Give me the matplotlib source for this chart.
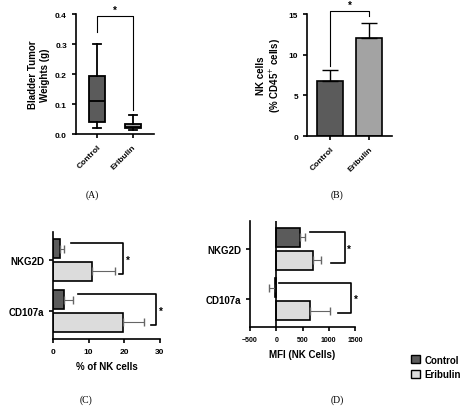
import matplotlib
matplotlib.use("Agg")
import matplotlib.pyplot as plt
from matplotlib.patches import Patch

groups = ["Control", "Eribulin"]
# Panel A box stats
a_whislo = [0.02, 0.015]; a_q1 = [0.04, 0.02]; a_med = [0.11, 0.025]; a_q3 = [0.195, 0.035]; a_whishi = [0.30, 0.062]
# Panel B
b_mean = [6.8, 12.1]; b_err = [1.3, 1.8]
# Panel C
markers = ["NKG2D", "CD107a"]
c_ctrl = [2.0, 3.0]; c_ctrl_err = [1.0, 2.5]
c_erib = [11.0, 19.5]; c_erib_err = [6.5, 6.0]
# Panel D
d_ctrl = [450, -30]; d_ctrl_err = [100, 100]
d_erib = [700, 640]; d_erib_err = [150, 390]

DARK = "#5b5b5b"; MID = "#a3a3a3"; LIGHT = "#dcdcdc"
W, H = 474, 410
fig = plt.figure(figsize=(W/100, H/100), dpi=100)
plt.rcParams['font.family'] = ['Liberation Sans', 'DejaVu Sans']
fb = dict(fontsize=7, fontweight='bold')

def ax_px(x0, y0, x1, y1):
    return fig.add_axes([x0/W, 1-y1/H, (x1-x0)/W, (y1-y0)/H])

def style(ax):
    for s in ['top', 'right']:
        ax.spines[s].set_visible(False)
    for s in ['left', 'bottom']:
        ax.spines[s].set_linewidth(1.2)
    ax.tick_params(width=1.2, length=3, labelsize=6)
    for t in ax.get_xticklabels() + ax.get_yticklabels():
        t.set_fontweight('bold')

# A
ax = ax_px(76, 15, 154, 135)
stats = [dict(whislo=a_whislo[i], q1=a_q1[i], med=a_med[i], q3=a_q3[i], whishi=a_whishi[i], fliers=[]) for i in range(2)]
bp = ax.bxp(stats, positions=[1, 2], widths=0.45, patch_artist=True,
            boxprops=dict(linewidth=1.3), medianprops=dict(color='black', linewidth=1.3),
            whiskerprops=dict(linewidth=1.3), capprops=dict(linewidth=1.3))
for p, c in zip(bp['boxes'], [DARK, MID]):
    p.set_facecolor(c)
ax.set_xlim(0.4, 2.6); ax.set_ylim(0, 0.4)
ax.set_yticks([0, 0.1, 0.2, 0.3, 0.4])
ax.set_xticks([1, 2]); ax.set_xticklabels(groups, rotation=45, ha='right', rotation_mode='anchor')
ax.set_ylabel("Bladder Tumor\nWeights (g)", **fb)
ax.plot([1, 1, 2, 2], [0.34, 0.395, 0.395, 0.08], color='black', lw=0.8, clip_on=False)
ax.text(1.5, 0.398, "*", ha='center', va='bottom', **fb)
style(ax)
fig.text(92/W, 1-195/H, "(A)", ha='center', va='center', fontsize=7, family='Liberation Serif')

# B
ax = ax_px(307, 15, 392, 137)
ax.bar([1, 2], b_mean, width=0.68, color=[DARK, MID], edgecolor='black', linewidth=1.2)
ax.errorbar([1, 2], b_mean, yerr=[[0, 0], b_err], fmt='none', ecolor='black', elinewidth=1, capsize=6, capthick=1)
ax.set_xlim(0.4, 2.6); ax.set_ylim(0, 15)
ax.set_yticks([0, 5, 10, 15])
ax.set_xticks([1, 2]); ax.set_xticklabels(groups, rotation=45, ha='right', rotation_mode='anchor')
ax.set_ylabel("NK cells\n(% CD45$^{+}$ cells)", **fb)
ax.plot([1, 1, 2, 2], [8.6, 15.4, 15.4, 14.7], color='black', lw=0.8, clip_on=False)
ax.text(1.5, 15.5, "*", ha='center', va='bottom', **fb)
style(ax)
fig.text(337/W, 1-195/H, "(B)", ha='center', va='center', fontsize=7, family='Liberation Serif')

# C
ypos_c = [3.0, 1.0]
ax = ax_px(53, 233, 160, 340)
h = 0.75
for i in range(2):
    yc, ye = ypos_c[i] + 0.45, ypos_c[i] - 0.45
    ax.barh(yc, c_ctrl[i], height=h, color=DARK, edgecolor='black', linewidth=1.2)
    ax.barh(ye, c_erib[i], height=h, color=LIGHT, edgecolor='black', linewidth=1.2)
    ax.errorbar(c_ctrl[i], yc, xerr=[[0], [c_ctrl_err[i]]], fmt='none', ecolor='#666666', elinewidth=0.8, capsize=3)
    ax.errorbar(c_erib[i], ye, xerr=[[0], [c_erib_err[i]]], fmt='none', ecolor='#666666', elinewidth=0.8, capsize=3)
bx = [19.5, 28.8]; bs = [5, 7]; be = [18.5, 27.5]
for i in range(2):
    yc, ye = ypos_c[i] + 0.65, ypos_c[i] - 0.55
    ax.plot([bs[i], bx[i], bx[i], be[i]], [yc, yc, ye, ye], color='black', lw=1.2)
    ax.text(bx[i] + 1, ypos_c[i], "*", ha='left', va='center', **fb)
ax.set_xlim(0, 30); ax.set_ylim(-0.1, 4.1)
ax.set_xticks([0, 10, 20, 30])
ax.set_yticks(ypos_c); ax.set_yticklabels(markers)
ax.set_xlabel("% of NK cells", **fb)
style(ax)
for t in ax.get_yticklabels():
    t.set_fontsize(7)
fig.text(86/W, 1-400/H, "(C)", ha='center', va='center', fontsize=7, family='Liberation Serif')

# D
ax = ax_px(250, 222, 355, 328)
for i in range(2):
    yc, ye = ypos_c[i] + 0.45, ypos_c[i] - 0.45
    ax.barh(yc, d_ctrl[i], height=h, color=DARK, edgecolor='black', linewidth=1.2)
    ax.barh(ye, d_erib[i], height=h, color=LIGHT, edgecolor='black', linewidth=1.2)
    sgn = 1 if d_ctrl[i] >= 0 else -1
    ax.errorbar(d_ctrl[i], yc, xerr=[[0 if sgn > 0 else d_ctrl_err[i]], [d_ctrl_err[i] if sgn > 0 else 0]],
                fmt='none', ecolor='#666666', elinewidth=0.8, capsize=3)
    ax.errorbar(d_erib[i], ye, xerr=[[0], [d_erib_err[i]]], fmt='none', ecolor='#666666', elinewidth=0.8, capsize=3)
ax.axvline(0, color='black', lw=1.2)
bx = [1300, 1420]; bs = [650, 50]; be = [1050, 1170]
for i in range(2):
    yc, ye = ypos_c[i] + 0.65, ypos_c[i] - 0.55
    ax.plot([bs[i], bx[i], bx[i], be[i]], [yc, yc, ye, ye], color='black', lw=1.2)
    ax.text(bx[i] + 50, ypos_c[i], "*", ha='left', va='center', **fb)
ax.set_xlim(-500, 1500); ax.set_ylim(-0.1, 4.1)
ax.set_xticks([-500, 0, 500, 1000, 1500])
ax.set_yticks(ypos_c); ax.set_yticklabels(markers)
ax.set_xlabel("MFI (NK Cells)", **fb)
style(ax)
for t in ax.get_xticklabels():
    t.set_fontsize(5)
for t in ax.get_yticklabels():
    t.set_fontsize(7)
fig.text(337/W, 1-400/H, "(D)", ha='center', va='center', fontsize=7, family='Liberation Serif')

fig.legend(handles=[Patch(facecolor=DARK, edgecolor='black', label='Control'),
                    Patch(facecolor=LIGHT, edgecolor='black', label='Eribulin')],
           loc='center left', bbox_to_anchor=(402/W, 1-368/H), frameon=False,
           prop=dict(size=7, weight='bold'), handlelength=0.9, handleheight=0.9, handletextpad=0.5)

fig.savefig("out.png", dpi=100, facecolor='white')
